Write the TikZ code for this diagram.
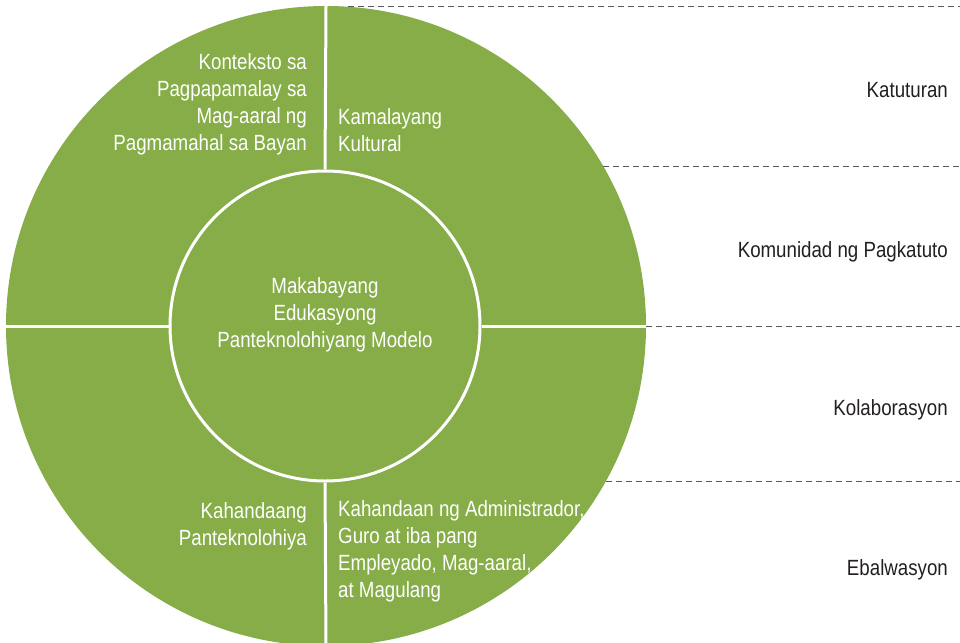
\documentclass[tikz,border=0pt]{standalone}
\usepackage{fontspec}
\setmainfont{Liberation Sans}[FakeStretch=0.85]
\usetikzlibrary{positioning}
\definecolor{leaf}{HTML}{86AD48}
\definecolor{ink}{HTML}{231F20}

\begin{document}
\begin{tikzpicture}[x=1pt, y=-1pt,
    wedgetext/.style={text=white, font=\fontsize{22}{27}\selectfont, inner sep=0pt},
    sidetext/.style={text=ink, font=\fontsize{22}{27}\selectfont, inner sep=0pt, anchor=east},
    divider/.style={white, line width=3pt},
    guide/.style={draw=black!65, line width=0.9pt, dash pattern=on 6pt off 4pt}]
    \clip (0, 0) rectangle (960, 642);
  %  \draw[help lines, step=50] (0, 0) grid (960, 642);

    % big disc and hub
    \node [circle, fill=leaf, minimum size=640pt, inner sep=0pt, outer sep=0pt] (outer) at (326, 326) {};
    \node [circle, fill=leaf, draw=white, line width=3pt, minimum size=310pt, inner sep=0pt] (hub) at (325, 326) {};

    \draw[divider] (outer.north) -- (hub.north);
    \draw[divider] (hub.south) -- (outer.south);
    \draw[divider] (outer.west) -- (hub.west);
    \draw[divider] (hub.east) -- (outer.east);

    % texts inside the disc
    \node [wedgetext, align=center] (model) at ([yshift=11pt]hub.center) {Makabayang\\Edukasyong\\Panteknolohiyang Modelo};
    \node [wedgetext, align=right, anchor=east] (konteksto) at (307, 104) {Konteksto sa\\Pagpapamalay sa\\Mag-aaral ng\\Pagmamahal sa Bayan};
    \node [wedgetext, align=left, anchor=west] (kultural) at (338, 130) {Kamalayang\\Kultural};
    \node [wedgetext, align=right, anchor=east] (teknolohiya) at (307, 526) {Kahandaang\\Panteknolohiya};
    \node [wedgetext, align=left, anchor=west] (kahandaan) at (338, 551) {Kahandaan ng Administrador,\\Guro at iba pang\\Empleyado, Mag-aaral,\\at Magulang};

    % dashed guides on the right
    \coordinate (edge) at (960, 0);
    \draw[guide] (outer.86) -- (outer.86 -| edge);
    \draw[guide] (outer.30) -- (outer.30 -| edge);
    \draw[guide] (outer.0) -- (outer.0 -| edge);
    \draw[guide] (outer.-29.5) -- (outer.-29.5 -| edge);

    \node [sidetext, anchor=base east] (katuturan) at (948, 97) {Katuturan};
    \node [sidetext, anchor=base east] (komunidad) at (948, 257) {Komunidad ng Pagkatuto};
    \node [sidetext, anchor=base east] (kolaborasyon) at (948, 415) {Kolaborasyon};
    \node [sidetext, anchor=base east] (ebalwasyon) at (948, 575) {Ebalwasyon};

\end{tikzpicture}
\end{document}
